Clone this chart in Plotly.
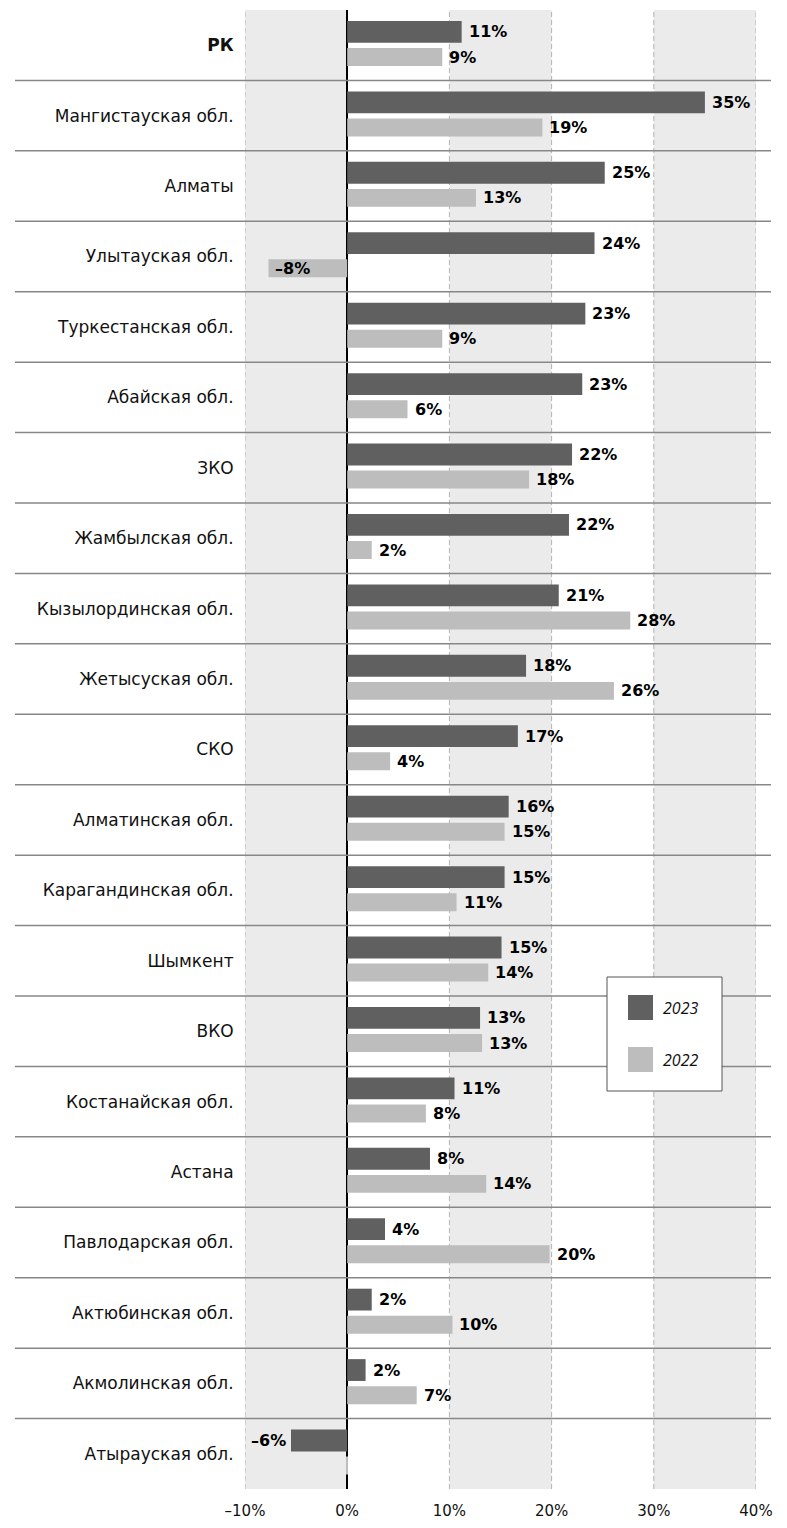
import plotly.graph_objects as go

# ---------------- data ----------------
regions = [
    "РК", "Мангистауская обл.", "Алматы", "Улытауская обл.", "Туркестанская обл.",
    "Абайская обл.", "ЗКО", "Жамбылская обл.", "Кызылординская обл.", "Жетысуская обл.",
    "СКО", "Алматинская обл.", "Карагандинская обл.", "Шымкент", "ВКО",
    "Костанайская обл.", "Астана", "Павлодарская обл.", "Актюбинская обл.",
    "Акмолинская обл.", "Атырауская обл.",
]
region_labels = ["<b>РК</b>"] + regions[1:]

values_2023 = [11.2, 35.0, 25.2, 24.2, 23.3, 23.0, 22.0, 21.7, 20.7, 17.5,
               16.7, 15.8, 15.4, 15.1, 13.0, 10.5, 8.1, 3.7, 2.4, 1.8, -5.5]
values_2022 = [9.3, 19.1, 12.6, -7.7, 9.3, 5.9, 17.8, 2.4, 27.7, 26.1,
               4.2, 15.4, 10.7, 13.8, 13.2, 7.7, 13.6, 19.8, 10.3, 6.8, -0.1]

labels_2023 = ["11%", "35%", "25%", "24%", "23%", "23%", "22%", "22%", "21%", "18%",
               "17%", "16%", "15%", "15%", "13%", "11%", "8%", "4%", "2%", "2%", "–6%"]
labels_2022 = ["9%", "19%", "13%", "–8%", "9%", "6%", "18%", "2%", "28%", "26%",
               "4%", "15%", "11%", "14%", "13%", "8%", "14%", "20%", "10%", "7%", ""]

x_tick_vals = [-10, 0, 10, 20, 30, 40]
x_tick_text = ["–10%", "0%", "10%", "20%", "30%", "40%"]
grid_vals = [-10, 10, 20, 30, 40]
bands = [(-10, 0), (10, 20), (30, 40)]

series_names = ["2023", "2022"]
COL_2023 = "#606060"
COL_2022 = "#bdbdbd"
SHADE = "#ebebeb"
FONT = "DejaVu Sans"
LEG_FONT = "Open Sans"

# ---------------- geometry (page has an 8px body margin) ----------------
PAGE_OFF = 8
W, H = 787 - PAGE_OFF, 1528 - PAGE_OFF
PLOT_L, PLOT_R, PLOT_T, PLOT_B = 245, 756, 10, 1489   # page pixels
ML = PLOT_L - PAGE_OFF
MR = 787 - PLOT_R
MT = PLOT_T - PAGE_OFF
MB = 1528 - PLOT_B
PW = PLOT_R - PLOT_L
PH = PLOT_B - PLOT_T

def px_x(px):
    return (px - PLOT_L) / PW

def px_y(py):
    return (PLOT_B - py) / PH

pos = list(range(len(regions)))

OFF_23, WID_23 = -0.344, 0.31
OFF_22, WID_22 = 0.04, 0.255

fig = go.Figure()
fig.add_trace(go.Bar(
    y=pos, x=values_2023, orientation="h", name=series_names[0],
    marker=dict(color=COL_2023, line=dict(width=0)),
    offset=OFF_23, width=WID_23, showlegend=False, hoverinfo="skip",
))
fig.add_trace(go.Bar(
    y=pos, x=values_2022, orientation="h", name=series_names[1],
    marker=dict(color=COL_2022, line=dict(width=0)),
    offset=OFF_22, width=WID_22, showlegend=False, hoverinfo="skip",
))

annotations = []
for i in pos:
    for vals, labs, off, wid in ((values_2023, labels_2023, OFF_23, WID_23),
                                 (values_2022, labels_2022, OFF_22, WID_22)):
        v, t = vals[i], labs[i]
        if not t:
            continue
        yc = i + off + wid / 2
        if v >= 0:
            xa, xs = "left", 5
        elif t == "–8%":
            xa, xs = "left", 4
        else:
            xa, xs = "right", -3
        annotations.append(dict(
            x=v, y=yc, xref="x", yref="y", text="<b>%s</b>" % t,
            showarrow=False, xanchor=xa, yanchor="middle", xshift=xs,
            font=dict(family=FONT, size=16, color="#000000"),
        ))

shapes = []
for x0, x1 in bands:
    shapes.append(dict(type="rect", xref="x", yref="paper", x0=x0, x1=x1, y0=0, y1=1,
                       fillcolor=SHADE, line=dict(width=0), layer="below"))
for gx in grid_vals:
    shapes.append(dict(type="line", xref="x", yref="paper", x0=gx, x1=gx, y0=0, y1=1,
                       line=dict(color="#b3b3b3", width=1, dash="5px,3px"), layer="between"))
for i in pos[:-1]:
    shapes.append(dict(type="line", xref="paper", yref="y",
                       x0=px_x(15), x1=px_x(771), y0=i + 0.5, y1=i + 0.5,
                       line=dict(color="#878787", width=1.5), layer="above"))

# manual legend
shapes.append(dict(type="rect", xref="paper", yref="paper",
                   x0=px_x(607), x1=px_x(722), y0=px_y(1091), y1=px_y(977),
                   fillcolor="#ffffff", line=dict(color="#555555", width=1), layer="above"))
for (top, col, name) in ((995, COL_2023, series_names[0]), (1047, COL_2022, series_names[1])):
    shapes.append(dict(type="rect", xref="paper", yref="paper",
                       x0=px_x(628), x1=px_x(653), y0=px_y(top + 25), y1=px_y(top),
                       fillcolor=col, line=dict(width=0), layer="above"))
    annotations.append(dict(x=px_x(661), y=px_y(top + 12.5), xref="paper", yref="paper",
                            text="<i>%s</i>" % name, showarrow=False,
                            xanchor="left", yanchor="middle",
                            font=dict(family=LEG_FONT, size=16, color="#111111")))

fig.update_layout(
    width=W, height=H,
    margin=dict(l=ML, r=MR, t=MT, b=MB, pad=0),
    paper_bgcolor="#ffffff", plot_bgcolor="#ffffff",
    font=dict(family=FONT, size=16, color="#111111"),
    barmode="overlay",
    showlegend=False,
    shapes=shapes,
    annotations=annotations,
)
fig.update_xaxes(
    range=[-10, 40], tickvals=x_tick_vals, ticktext=x_tick_text,
    showgrid=False,
    zeroline=True, zerolinecolor="#000000", zerolinewidth=1.6,
    showline=False, ticks="outside", ticklen=8, tickcolor="rgba(0,0,0,0)",
    tickfont=dict(family=FONT, size=15, color="#111111"),
    fixedrange=True,
)
fig.update_yaxes(
    range=[len(regions) - 0.5, -0.5], tickvals=pos, ticktext=region_labels,
    showgrid=False, zeroline=False, showline=False,
    ticks="outside", ticklen=7, tickcolor="rgba(0,0,0,0)",
    tickfont=dict(family=FONT, size=17, color="#111111"),
    fixedrange=True,
)

fig.write_html("out.html")
